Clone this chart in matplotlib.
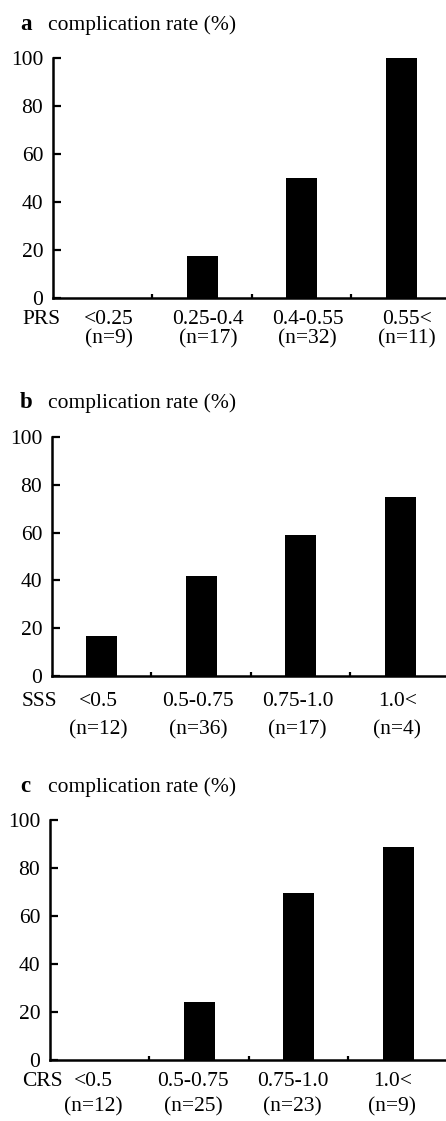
import matplotlib.pyplot as plt
import matplotlib.transforms as mtransforms
import numpy as np

# complication rate (%) per score group
prs_groups = ["<0.25", "0.25-0.4", "0.4-0.55", "0.55<"]
prs_n = [9, 17, 32, 11]
prs_rate = [0.0, 17.6, 50.0, 100.0]

sss_groups = ["<0.5", "0.5-0.75", "0.75-1.0", "1.0<"]
sss_n = [12, 36, 17, 4]
sss_rate = [16.7, 41.7, 58.8, 75.0]

crs_groups = ["<0.5", "0.5-0.75", "0.75-1.0", "1.0<"]
crs_n = [12, 25, 23, 9]
crs_rate = [0.0, 24.0, 69.6, 88.9]

yticks = [0, 20, 40, 60, 80, 100]

plt.rcParams["font.family"] = ["Liberation Serif", "DejaVu Serif"]
W, H = 446, 1121
fig = plt.figure(figsize=(W / 100, H / 100), dpi=100)
FS = 15.5

# (letter, score name, groups, n, rates, axis left px, y0 px, y100 px, right xlim,
#  title y px, label line1 y px, label line2 y px, label x offset)
panels = [
    ("a", "PRS", prs_groups, prs_n, prs_rate, 53, 298, 58, 3.45, 25, 319, 339, 0.06),
    ("b", "SSS", sss_groups, sss_n, sss_rate, 52, 676, 437, 3.46, 403, 702, 730, -0.03),
    ("c", "CRS", crs_groups, crs_n, crs_rate, 50, 1060, 820, 3.48, 787, 1081, 1107, -0.06),
]

for letter, score, groups, ns, rates, left, y0, y100, xr, ty, l1, l2, off in panels:
    ax = fig.add_axes([left / W, 1 - y0 / H, (W - left) / W, (y0 - y100) / H])
    x = np.arange(len(groups))
    ax.bar(x, rates, width=0.31, color="black", zorder=3)
    ax.set_xlim(-0.5, xr)
    ax.set_ylim(0, 100)
    for s in ["top", "right"]:
        ax.spines[s].set_visible(False)
    for s in ["left", "bottom"]:
        ax.spines[s].set_linewidth(1.8)
    ax.set_yticks(yticks)
    ax.set_yticklabels([str(v) for v in yticks], fontsize=FS)
    ax.tick_params(axis="y", direction="in", length=6, width=1.6, pad=7)
    ax.set_xticks(x[:-1] + 0.5)
    ax.set_xticklabels([])
    ax.tick_params(axis="x", direction="in", length=3, width=1.6)

    tr = mtransforms.blended_transform_factory(ax.transData, fig.transFigure)
    for i, (g, n) in enumerate(zip(groups, ns)):
        ax.text(i + off, 1 - l1 / H, g, transform=tr, ha="center", va="center",
                fontsize=FS, clip_on=False)
        ax.text(i + off, 1 - l2 / H, f"(n={n})", transform=tr, ha="center",
                va="center", fontsize=FS, clip_on=False)
    fig.text(22 / W, 1 - l1 / H, score, ha="left", va="center", fontsize=FS)

    fig.text(20 / W, 1 - ty / H, letter, ha="left", va="center", fontsize=FS + 1,
             fontweight="bold")
    fig.text(48 / W, 1 - ty / H, "complication rate (%)", ha="left", va="center",
             fontsize=FS)

fig.savefig("out.png", dpi=100, facecolor="white")
